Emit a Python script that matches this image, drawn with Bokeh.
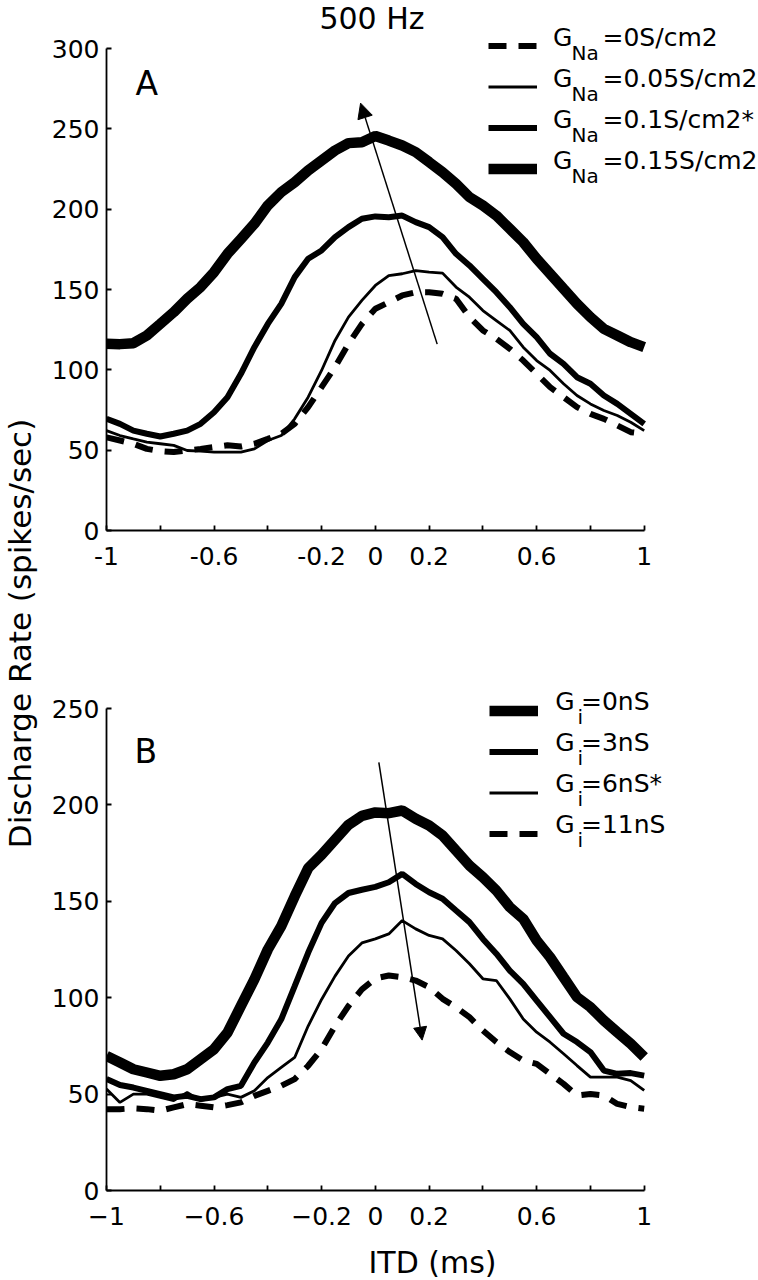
import math
from bokeh.plotting import figure
from bokeh.models import (Range1d, FixedTicker, Legend, LegendItem, Label,
                          Arrow, NormalHead)
from bokeh.layouts import row, column
from bokeh.embed import file_html
from bokeh.resources import INLINE

FONT = "DejaVu Sans"

# ---------------- data ----------------
itd = [-1.0, -0.95, -0.9, -0.85, -0.8, -0.75, -0.7, -0.65, -0.6, -0.55, -0.5,
       -0.45, -0.4, -0.35, -0.3, -0.25, -0.2, -0.15, -0.1, -0.05, 0.0,
       0.05, 0.1, 0.15, 0.2, 0.25, 0.3, 0.35, 0.4, 0.45, 0.5,
       0.55, 0.6, 0.65, 0.7, 0.75, 0.8, 0.85, 0.9, 0.95, 1.0]

# Panel A : G_Na series
gna_0 = [58, 56, 54, 50.8, 49.4, 48.8, 49.8, 50.8, 51.9, 53, 52.3, 54, 57, 60.2,
         66.4, 76.8, 89.2, 101.7, 116.2, 128.6, 138,
         142.1, 146.3, 148.3, 148.3, 147.3, 144.2, 132.8, 124.5, 119.3, 113.1,
         105.8, 97.5, 89.2, 83, 76.8, 72.6, 69.5, 65.4, 61.2, 60.2]
gna_005 = [62.2, 59.1, 57, 55, 54, 53, 49.8, 49.4, 48.8, 48.8, 48.8, 50.8, 56,
           59.1, 69.5, 83, 99.6, 118.3, 132.8, 143.2, 152.5,
           158.7, 159.8, 161.8, 160.8, 160.2, 151.5, 145.2, 136.9, 130.7, 124.5,
           114.1, 105.8, 99.6, 91.3, 84, 78.8, 74.7, 71.6, 67.4, 62.2]
gna_01 = [69.5, 66.4, 62.2, 60.2, 58.5, 60.2, 62.2, 66.4, 73.6, 83, 97.5, 114.1,
          128.6, 141.1, 157.7, 169.1, 174.3, 182.6, 188.8, 194, 195.5,
          195, 196, 191.9, 188.8, 182.6, 172.2, 165, 156.6, 148.3, 139,
          128.6, 120.3, 110, 103.7, 95.4, 91.3, 84, 78.8, 72.6, 66.4]
gna_015 = [116.2, 116, 116.6, 121.4, 128.6, 135.9, 144.2, 151.5, 160.8, 172.2,
           181.5, 190.9, 202.3, 210.6, 216.8, 224.1, 230.3, 236.5, 241.1, 241.7,
           245.5,
           242.7, 239.6, 235.5, 229.3, 223, 215.8, 207.5, 202.3, 196, 187.8,
           179.5, 169.1, 159.8, 150.4, 141.1, 132.8, 125.5, 121.4, 117.2, 114.1]

# Panel B : G_i series
gi_0 = [69.8, 66.4, 62.9, 61.2, 59.5, 60.3, 62.9, 68.1, 73.3, 81.9, 95.7, 109.5,
        125, 137.1, 152.6, 167.2, 174.1, 181.9, 189.7, 194.3, 196.1,
        195.7, 197.1, 192.8, 189.3, 184.1, 176.3, 168.6, 162.5, 155.6, 147,
        140.9, 129.7, 121, 110.6, 100.3, 95.1, 88.2, 82.1, 76.1, 69.2]
gi_3 = [57.8, 54.7, 53.4, 51.7, 50, 48.3, 49.1, 47.4, 48.3, 52.6, 54.3, 66.4,
        76.7, 88.8, 106, 123.3, 138.8, 149.1, 154.3, 156, 157.5,
        159.9, 164.2, 159, 154.7, 151.3, 145.2, 139.2, 130.5, 122.8, 114.1,
        107.2, 98.5, 89.9, 81.3, 77, 71.8, 62.2, 60.5, 60.9, 59.6]
gi_6 = [52.6, 45.7, 50, 50, 48.3, 46.6, 50.9, 46.6, 48.3, 50, 48.3, 51.7, 58.6,
        63.8, 69, 85.3, 99.1, 111.2, 121.6, 128.4, 130.5,
        133.1, 140, 135.7, 132.3, 130.5, 124.5, 117.6, 109.8, 108.9, 99.4,
        89, 82.1, 76.9, 70.9, 64.8, 58.8, 58.8, 58.8, 57, 51.9]
gi_11 = [42.2, 42.2, 42.6, 42.2, 41.4, 43.1, 44.8, 44, 43.1, 44.3, 45.7, 49.1,
         51.7, 54.3, 57.8, 64.7, 73.3, 85.3, 95.7, 104.3, 110,
         111.5, 110.6, 108.9, 105.5, 99.4, 95.1, 89.9, 83, 77, 71.8,
         67.4, 65.7, 60.5, 55.3, 49.3, 50.1, 49.3, 44.9, 43.2, 42.4]

# arrows (start -> end, data units)
arrow_a_x = [0.23, -0.055]
arrow_a_y = [116, 266]
arrow_b_x = [0.013, 0.174]
arrow_b_y = [222, 78]

# ticks and labels
x_ticks = [-1.0, -0.8, -0.6, -0.4, -0.2, 0.0, 0.2, 0.4, 0.6, 0.8, 1.0]
x_labels_a = ["-1", "", "-0.6", "", "-0.2", "0", "0.2", "", "0.6", "", "1"]
x_labels_b = ["\u22121", "", "\u22120.6", "", "\u22120.2", "0", "0.2", "", "0.6", "", "1"]
y_ticks_a = [0, 50, 100, 150, 200, 250, 300]
y_ticks_b = [0, 50, 100, 150, 200, 250]

legend_a_sub = "Na"
legend_a_rest = ["=0S/cm2", "=0.05S/cm2", "=0.1S/cm2*", "=0.15S/cm2"]
legend_b_sub = "i"
legend_b_rest = ["=0nS", "=3nS", "=6nS*", "=11nS"]

# geometry (pixels)
PX_PER_X = 268.85          # pixels per ITD unit
FRAME_W = 652              # frame spans to right edge so legend text is not clipped
X_MAX = -1 + FRAME_W / PX_PER_X
FRAME_LEFT = 105


def make_fig(ymax, yticks, xlabels, frame_h, axis_h, bottom):
    y_top = frame_h * ymax / axis_h
    p = figure(frame_width=FRAME_W, frame_height=frame_h,
               x_range=Range1d(-1, X_MAX), y_range=Range1d(0, y_top),
               min_border_left=57, min_border_right=0,
               min_border_top=0, min_border_bottom=bottom,
               output_backend="svg", toolbar_location=None,
               outline_line_color=None, background_fill_color="white",
               border_fill_color="white")
    p.grid.visible = False
    p.xaxis.ticker = FixedTicker(ticks=x_ticks)
    p.xaxis.major_label_overrides = {t: l for t, l in zip(x_ticks, xlabels)}
    p.xaxis.bounds = (-1, 1)
    p.yaxis.ticker = FixedTicker(ticks=yticks)
    p.yaxis.bounds = (0, ymax)
    for ax in (p.xaxis, p.yaxis):
        ax.minor_tick_line_color = None
        ax.major_tick_in = 5
        ax.major_tick_out = 0
        ax.axis_line_width = 1.8
        ax.major_tick_line_width = 1.8
        ax.axis_line_color = "black"
        ax.major_tick_line_color = "black"
        ax.major_label_text_font = FONT
        ax.major_label_text_font_size = "25px"
        ax.major_label_text_color = "black"
    p.xaxis.major_label_standoff = 16
    p.yaxis.major_label_standoff = 7
    return p


def txt(p, x_img, y_img, frame_bottom, text, size, align="left", angle=0.0):
    """Text centred vertically on y_img (image pixels), left edge at x_img."""
    p.add_layout(Label(x=x_img - FRAME_LEFT, y=frame_bottom - y_img,
                       x_units="screen", y_units="screen", text=text,
                       text_font=FONT, text_font_size=size, angle=angle,
                       text_align=align, text_baseline="middle",
                       text_color="black"))


def add_legend(p, renderers, frame_bottom, first_row_img, sample_left_img,
               g_x, sub, sub_x, sub_dy, rests, rest_x):
    h = 41
    items = [LegendItem(label="", renderers=[r]) for r in renderers]
    n = len(items)
    top = first_row_img - h / 2
    vy = frame_bottom - (top + n * h)
    vx = sample_left_img - FRAME_LEFT
    lg = Legend(items=items, location=(vx, vy), orientation="vertical",
                glyph_width=49, glyph_height=h, label_height=h, label_width=0,
                spacing=0, padding=0, margin=0, label_standoff=0,
                border_line_color=None, background_fill_alpha=0,
                label_text_font=FONT, label_text_font_size="25px")
    p.add_layout(lg)
    for i, rest in enumerate(rests):
        base = first_row_img + i * h          # baseline of main text = sample line
        cap_mid = base - 9.1                  # centre of 25px capitals
        txt(p, g_x, cap_mid, frame_bottom, "G", "25px")
        txt(p, sub_x, base + sub_dy, frame_bottom, sub, "20px")
        txt(p, rest_x, cap_mid, frame_bottom, rest, "25px")


# ---------------- panel A ----------------
pa = make_fig(300, y_ticks_a, x_labels_a, 530, 482, 70)
ra0 = pa.line(itd, gna_0, line_color="black", line_width=6, line_dash="18 12")
ra1 = pa.line(itd, gna_005, line_color="black", line_width=2.8)
ra2 = pa.line(itd, gna_01, line_color="black", line_width=6)
ra3 = pa.line(itd, gna_015, line_color="black", line_width=10.5)
pa.add_layout(Arrow(end=NormalHead(size=15, fill_color="black", line_color="black", line_width=1),
                    x_start=arrow_a_x[0], y_start=arrow_a_y[0],
                    x_end=arrow_a_x[1], y_end=arrow_a_y[1],
                    line_width=1.5, line_color="black"))
add_legend(pa, [ra0, ra1, ra2, ra3], 530, 45.7, 486.7,
           551.5, legend_a_sub, 570, 6.3, legend_a_rest, 601)
txt(pa, 134, 82.5, 530, "A", "33px")
txt(pa, 370.5, 18, 530, "500 Hz", "30px", align="center")

# ---------------- panel B ----------------
pb = make_fig(250, y_ticks_b, x_labels_b, 590, 482, 89)
rb0 = pb.line(itd, gi_0, line_color="black", line_width=10.5)
rb1 = pb.line(itd, gi_3, line_color="black", line_width=6)
rb2 = pb.line(itd, gi_6, line_color="black", line_width=2.8)
rb3 = pb.line(itd, gi_11, line_color="black", line_width=6, line_dash="18 12")
pb.add_layout(Arrow(end=NormalHead(size=13, fill_color="black", line_color="black", line_width=1),
                    x_start=arrow_b_x[0], y_start=arrow_b_y[0],
                    x_end=arrow_b_x[1], y_end=arrow_b_y[1],
                    line_width=1.5, line_color="black"))
add_legend(pb, [rb0, rb1, rb2, rb3], 1190, 710, 488,
           553.7, legend_b_sub, 576, 6.0, legend_b_rest, 579.5)
txt(pb, 133, 750.8, 1190, "B", "33px")
pb.xaxis.axis_label = "ITD (ms)"
pb.xaxis.axis_label_text_font = FONT
pb.xaxis.axis_label_text_font_size = "30px"
pb.xaxis.axis_label_text_font_style = "normal"
pb.xaxis.axis_label_text_color = "black"
pb.xaxis.axis_label_standoff = 17

# ---------------- shared y label strip ----------------
strip = figure(width=48, height=1279, x_range=Range1d(0, 1), y_range=Range1d(0, 1),
               x_axis_location=None, y_axis_location=None, min_border=0,
               toolbar_location=None, outline_line_color=None,
               output_backend="svg")
strip.grid.visible = False
strip.add_layout(Label(x=19, y=1279 - 633, x_units="screen", y_units="screen",
                       text="Discharge Rate (spikes/sec)", angle=math.pi / 2,
                       text_align="center", text_baseline="middle",
                       text_font=FONT, text_font_size="31px", text_color="black"))

layout = row(strip, column(pa, pb))
open("out.html", "w").write(file_html(layout, INLINE))
